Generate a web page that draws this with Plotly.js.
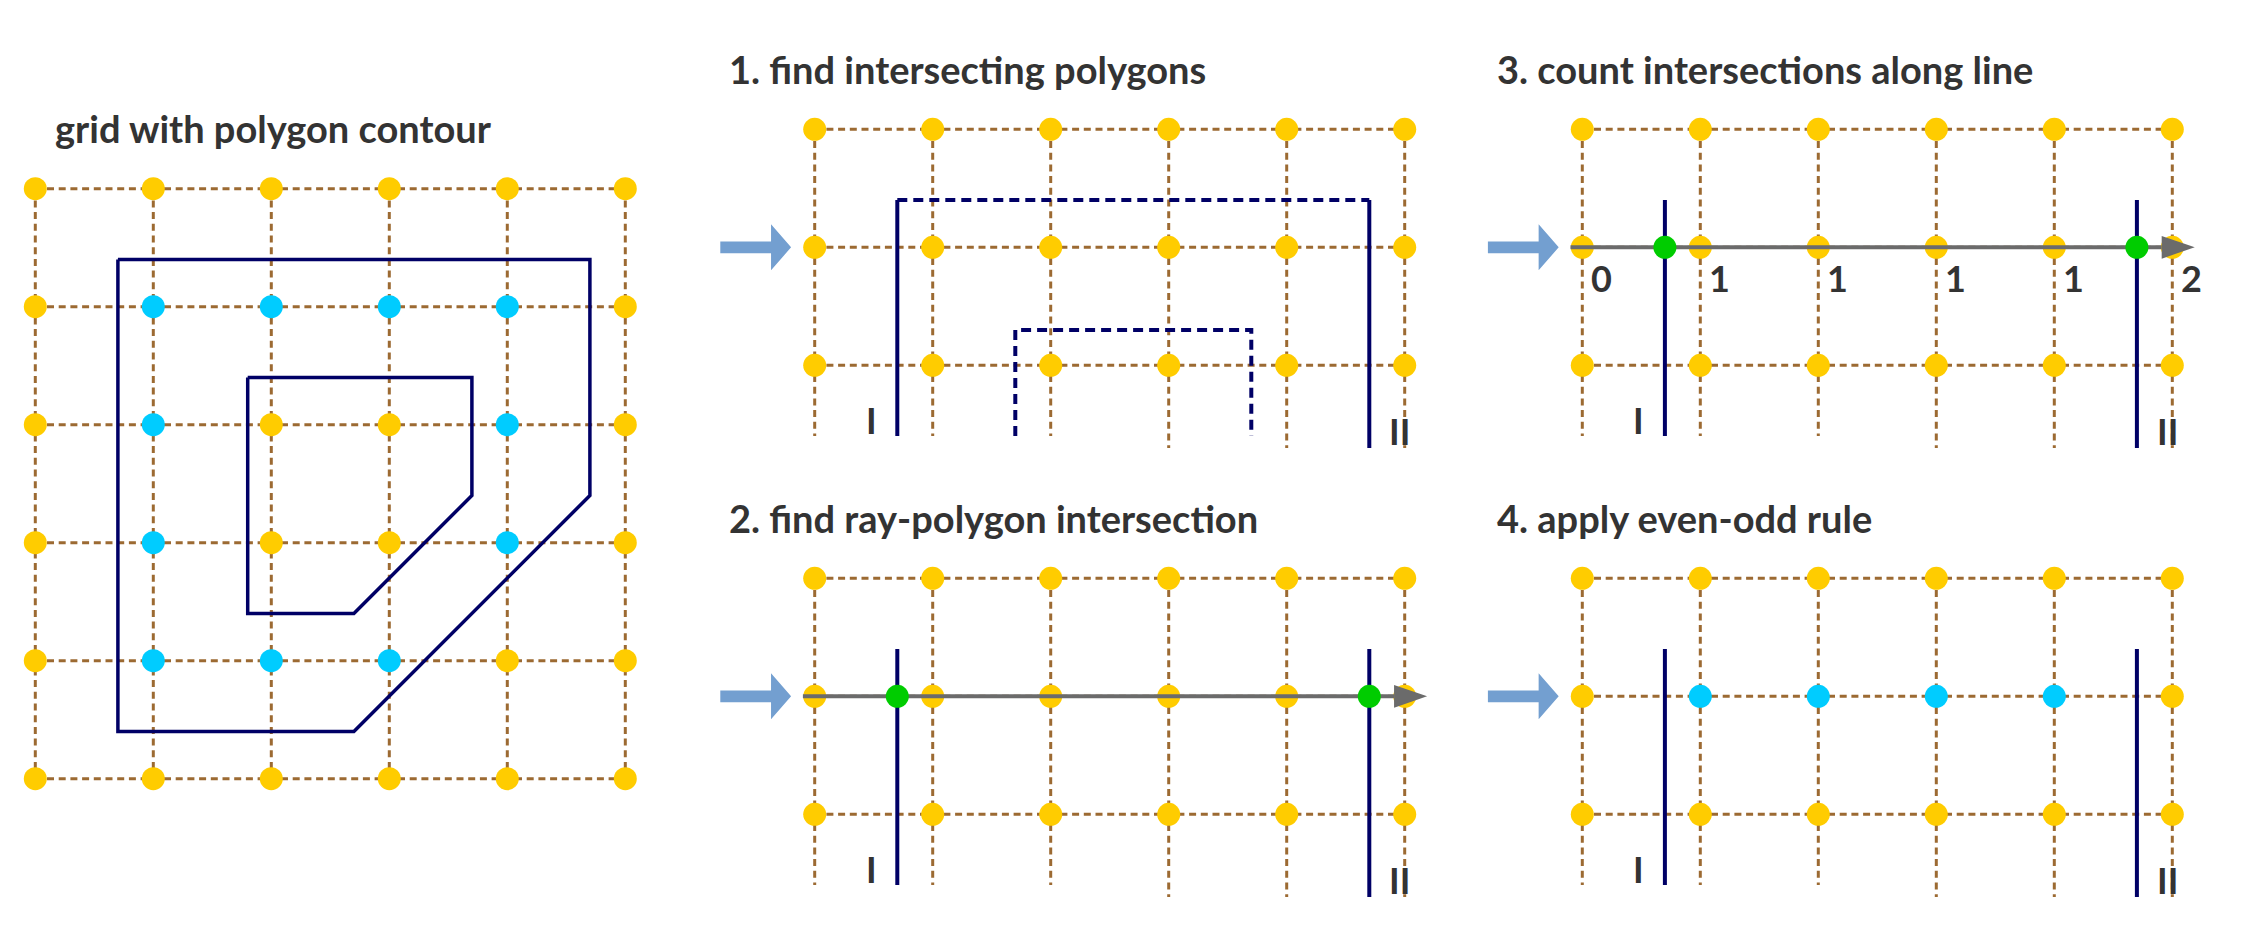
<!DOCTYPE html>
<html>
<head>
<meta charset="utf-8">
<script src="https://cdn.plot.ly/plotly-3.0.1.min.js"></script>
<style>
  html, body { margin: 0; padding: 0; background: #ffffff; }
  #chart { width: 2244px; height: 945px; }
</style>
</head>
<body>
<div id="chart"></div>
<script>
// even-odd rule illustration: grid of sample points + polygon contour, 4 steps

// ── data (grid units: column index, row index) ────────────────────────────────
const gridCols = [0, 1, 2, 3, 4, 5];
const gridRowsFull = [0, 1, 2, 3, 4, 5];
const gridRowsStrip = [0, 1, 2];
const stripColEnds = [2.6, 2.6, 2.6, 2.7, 2.7, 2.7];

const outerPolyX = [0.7, 4.7, 4.7, 2.7, 0.7, 0.7];
const outerPolyY = [0.6, 0.6, 2.6, 4.6, 4.6, 0.6];
const innerPolyX = [1.8, 3.7, 3.7, 2.7, 1.8, 1.8];
const innerPolyY = [1.6, 1.6, 2.6, 3.6, 3.6, 1.6];

// 1 = sample point inside the contour
const insideFull = [
  [0, 0, 0, 0, 0, 0],
  [0, 1, 1, 1, 1, 0],
  [0, 1, 0, 0, 1, 0],
  [0, 1, 0, 0, 1, 0],
  [0, 1, 1, 1, 0, 0],
  [0, 0, 0, 0, 0, 0],
];

const edgeX = [0.7, 4.7];
const edgeTop = 0.6;
const edgeBottom = [2.6, 2.7];
const edgeLabels = ['I', 'II'];
const edgeLabelX = [0.48, 4.96];
const edgeLabelY = [2.46, 2.555];

const innerStripX = [1.7, 1.7, 3.7, 3.7];
const innerStripY = [2.6, 1.7, 1.7, 2.6];

const rayRow = 1;
const rayStart = -0.1;
const rayHeadX = [4.91, 5.19, 4.91, 4.91];
const rayHeadDY = [-0.096, 0, 0.096, -0.096];
const crossingsX = [0.7, 4.7];
const crossCounts = [0, 1, 1, 1, 1, 2];

const blueArrowX = [-0.8, -0.37, -0.37, -0.2, -0.37, -0.37, -0.8, -0.8];
const blueArrowDY = [-0.05, -0.05, -0.195, 0, 0.195, 0.05, 0.05, -0.05];

const titles = [
  'grid with polygon contour',
  '1. find intersecting polygons',
  '2. find ray-polygon intersection',
  '3. count intersections along line',
  '4. apply even-odd rule',
];

// ── style ─────────────────────────────────────────────────────────────────────
const W = 2244, H = 945, U = 118;
const C_DOT = '#ffcc00', C_IN = '#00ccff', C_HIT = '#00cc00';
const C_GRID = '#9c6a32', C_POLY = '#000066', C_RAY = '#6b6b6b';
const C_ARROW = '#739fd0', C_TEXT = '#333333';
const FAMILY = 'Lato, "Open Sans", sans-serif';
const TITLE_FONT = { family: FAMILY, size: 38, color: C_TEXT, weight: 700 };
const LABEL_FONT = { family: FAMILY, size: 36, color: C_TEXT, weight: 700 };

// panel origin (px of col 0 / row 0) and visible range in grid units
const panels = [
  { ox: 35.3,  oy: 188.7, xr: [-0.25, 5.5], yr: [-0.9, 5.4], titleX: 0.153 },
  { ox: 814.7, oy: 129.3, xr: [-1, 5.5],    yr: [-0.9, 2.85], titleX: -0.743 },
  { ox: 814.7, oy: 578.3, xr: [-1, 5.5],    yr: [-0.9, 3.0],  titleX: -0.743 },
  { ox: 1582.3, oy: 129.3, xr: [-1, 5.5],   yr: [-0.9, 2.85], titleX: -0.743 },
  { ox: 1582.3, oy: 578.3, xr: [-1, 5.5],   yr: [-0.9, 3.0],  titleX: -0.743 },
];
const titleY = -0.515;

function _ax(p) {
  return {
    x: {
      domain: [(p.ox + p.xr[0] * U) / W, (p.ox + p.xr[1] * U) / W],
      range: p.xr, visible: false, fixedrange: true,
    },
    y: {
      domain: [1 - (p.oy + p.yr[1] * U) / H, 1 - (p.oy + p.yr[0] * U) / H],
      range: [p.yr[1], p.yr[0]], visible: false, fixedrange: true,
    },
  };
}

function _ids(i) {
  const s = i === 0 ? '' : String(i + 1);
  return { xa: 'x' + s, ya: 'y' + s };
}

function _line(id, x, y, color, width, dash) {
  return {
    x, y, xaxis: id.xa, yaxis: id.ya, mode: 'lines', hoverinfo: 'skip',
    line: { color, width, dash: dash || 'solid' },
  };
}

function _gridTrace(id, rows, colEnds) {
  const x = [], y = [];
  const last = gridCols[gridCols.length - 1];
  rows.forEach(r => { x.push(0, last, null); y.push(r, r, null); });
  gridCols.forEach((c, k) => { x.push(c, c, null); y.push(rows[0], colEnds[k], null); });
  return _line(id, x, y, C_GRID, 3, '7px,4.7px');
}

function _dots(id, rows, colorOf) {
  const x = [], y = [], col = [];
  rows.forEach(r => gridCols.forEach(c => { x.push(c); y.push(r); col.push(colorOf(r, c)); }));
  return {
    x, y, xaxis: id.xa, yaxis: id.ya, mode: 'markers', hoverinfo: 'skip', cliponaxis: false,
    marker: { size: 23, color: col, line: { width: 0 } },
  };
}

function _edges(id) {
  const x = [], y = [];
  edgeX.forEach((e, k) => { x.push(e, e, null); y.push(edgeTop, edgeBottom[k], null); });
  return _line(id, x, y, C_POLY, 4);
}

function _blueArrow(id) {
  return {
    x: blueArrowX, y: blueArrowDY.map(d => rayRow + d), xaxis: id.xa, yaxis: id.ya,
    mode: 'lines', fill: 'toself', fillcolor: C_ARROW, line: { width: 0, color: C_ARROW },
    hoverinfo: 'skip',
  };
}

function _ray(id) {
  return [
    _line(id, [rayStart, rayHeadX[0]], [rayRow, rayRow], C_RAY, 4),
    {
      x: rayHeadX, y: rayHeadDY.map(d => rayRow + d), xaxis: id.xa, yaxis: id.ya,
      mode: 'lines', fill: 'toself', fillcolor: C_RAY, line: { width: 0, color: C_RAY },
      hoverinfo: 'skip',
    },
    {
      x: crossingsX, y: crossingsX.map(() => rayRow), xaxis: id.xa, yaxis: id.ya,
      mode: 'markers', cliponaxis: false, hoverinfo: 'skip',
      marker: { size: 23, color: C_HIT, line: { width: 0 } },
    },
  ];
}

const stripYellow = () => C_DOT;

// ── build ─────────────────────────────────────────────────────────────────────
const traces = [];
const layout = {
  width: W, height: H, margin: { t: 0, r: 0, b: 0, l: 0 },
  showlegend: false, paper_bgcolor: '#ffffff', plot_bgcolor: 'rgba(0,0,0,0)',
  annotations: [],
};

panels.forEach((p, i) => {
  const a = _ax(p);
  const s = i === 0 ? '' : String(i + 1);
  layout['xaxis' + s] = { ...a.x, anchor: 'y' + s };
  layout['yaxis' + s] = { ...a.y, anchor: 'x' + s };
  const id = _ids(i);
  layout.annotations.push({
    text: titles[i], xref: id.xa, yref: id.ya, x: p.titleX, y: titleY,
    xanchor: 'left', yanchor: 'middle', showarrow: false, font: TITLE_FONT,
  });
  if (i > 0) {
    edgeLabels.forEach((t, k) => layout.annotations.push({
      text: t, xref: id.xa, yref: id.ya, x: edgeLabelX[k], y: edgeLabelY[k],
      xanchor: 'center', yanchor: 'middle', showarrow: false, font: LABEL_FONT,
    }));
  }
});

// panel 0: grid with polygon contour
{
  const id = _ids(0);
  traces.push(_gridTrace(id, gridRowsFull, gridRowsFull.map(() => gridRowsFull[gridRowsFull.length - 1])));
  traces.push(_line(id, outerPolyX, outerPolyY, C_POLY, 3.5));
  traces.push(_line(id, innerPolyX, innerPolyY, C_POLY, 3.5));
  traces.push(_dots(id, gridRowsFull, (r, c) => insideFull[r][c] ? C_IN : C_DOT));
}

// panel 1: find intersecting polygons
{
  const id = _ids(1);
  traces.push(_gridTrace(id, gridRowsStrip, stripColEnds));
  traces.push(_line(id, edgeX, [edgeTop, edgeTop], C_POLY, 4, '10px,6px'));
  traces.push(_line(id, innerStripX, innerStripY, C_POLY, 4, '10px,6px'));
  traces.push(_edges(id));
  traces.push(_dots(id, gridRowsStrip, stripYellow));
  traces.push(_blueArrow(id));
}

// panel 2: find ray-polygon intersection
{
  const id = _ids(2);
  traces.push(_gridTrace(id, gridRowsStrip, stripColEnds));
  traces.push(_edges(id));
  traces.push(_dots(id, gridRowsStrip, stripYellow));
  traces.push(..._ray(id));
  traces.push(_blueArrow(id));
}

// panel 3: count intersections along line
{
  const id = _ids(3);
  traces.push(_gridTrace(id, gridRowsStrip, stripColEnds));
  traces.push(_edges(id));
  traces.push(_dots(id, gridRowsStrip, stripYellow));
  traces.push(..._ray(id));
  traces.push(_blueArrow(id));
  crossCounts.forEach((n, k) => layout.annotations.push({
    text: String(n), xref: id.xa, yref: id.ya, x: gridCols[k] + 0.16, y: rayRow + 0.26,
    xanchor: 'center', yanchor: 'middle', showarrow: false, font: LABEL_FONT,
  }));
}

// panel 4: apply even-odd rule
{
  const id = _ids(4);
  traces.push(_gridTrace(id, gridRowsStrip, stripColEnds));
  traces.push(_edges(id));
  traces.push(_dots(id, gridRowsStrip, (r, c) => (r === rayRow && crossCounts[c] % 2 === 1) ? C_IN : C_DOT));
  traces.push(_blueArrow(id));
}

Plotly.newPlot('chart', traces, layout, { staticPlot: true, displayModeBar: false });
</script>
</body>
</html>
